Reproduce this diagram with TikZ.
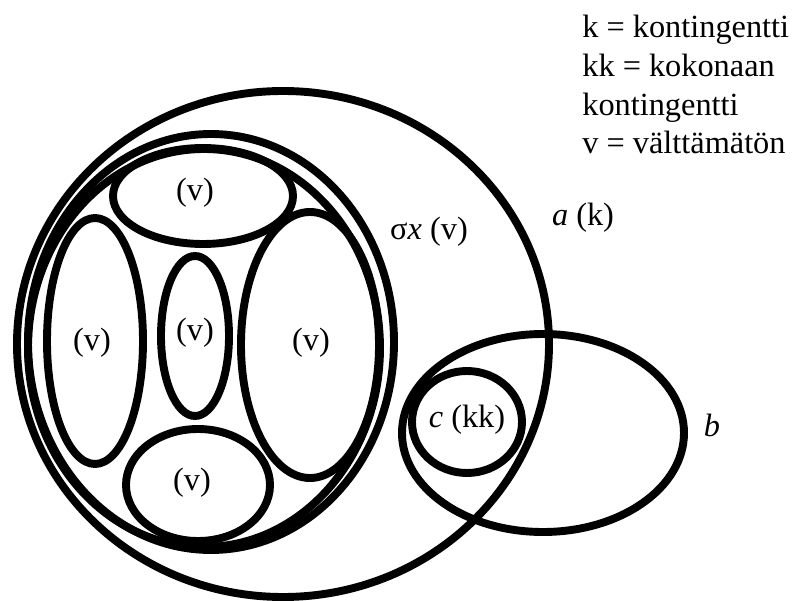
\documentclass[tikz,border=0pt]{standalone}
\usepackage{fontspec}
\setmainfont{Liberation Serif}
\usetikzlibrary{positioning}

\begin{document}
\begin{tikzpicture}[x=0.02cm, y=-0.02cm,
  set/.style={draw=black, line width=4.5pt},
  lbl/.style={font=\fontsize{18.4}{22}\selectfont, inner sep=0pt}
]
  \useasboundingbox (0,0) rectangle (795,601);
  % outer sets
  \draw[set] (283,344) ellipse [x radius=266, y radius=253];  % a
  \draw[set] (211,342) ellipse [x radius=183, y radius=208];  % sigma x, outer
  \draw[set] (204,348) ellipse [x radius=176, y radius=199];  % sigma x, inner
  \draw[set] (543,433) ellipse [x radius=141, y radius=99];   % b
  \draw[set] (467,422) ellipse [x radius=55, y radius=51];    % c
  % necessary parts
  \foreach \n/\x/\y/\rx/\ry/\lx/\ly in {
    top/203/196/90/48/195/193,
    left/95/341/48/123/92/343,
    mid/195/336/34/80/195/333,
    right/310/345/69/133/311/343,
    bottom/198/485/72/56/192/483
  }{
    \draw[set] (\x,\y) ellipse [x radius=\rx, y radius=\ry];
    \node[lbl] (v\n) at (\lx,\ly) {(v)};
  }
  \node[lbl] (sx) at (429,232) {σ\textit{x} (v)};
  \node[lbl] (a) at (583,218) {\textit{a} (k)};
  \node[lbl] (c) at (467,420) {\textit{c} (kk)};
  \node[lbl] (b) at (712,425) {\textit{b}};
  \node[lbl, anchor=north west, align=left] (legend) at (582,15)
    {k = kontingentti\\kk = kokonaan\\kontingentti\\v = välttämätön};
\end{tikzpicture}
\end{document}
